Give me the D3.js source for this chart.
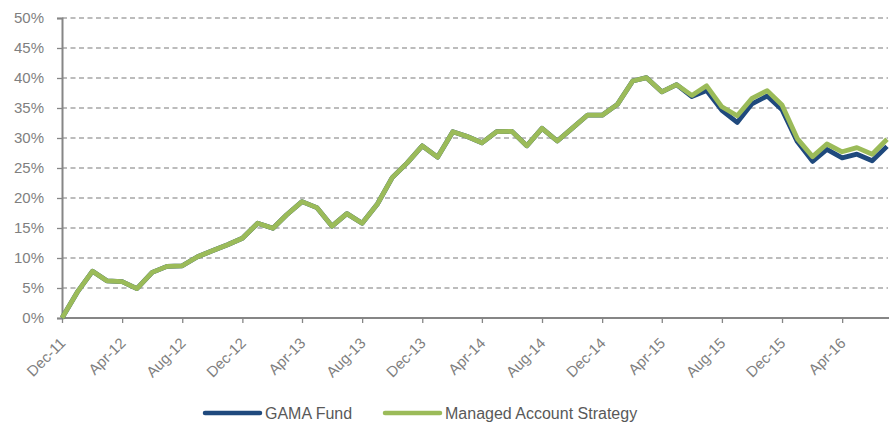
<!DOCTYPE html>
<html>
<head>
<meta charset="utf-8">
<script src="https://cdn.jsdelivr.net/npm/d3@7"></script>
<style>
  body { margin: 0; background: #fff; }
  svg { display: block; }
  text { font-family: "Liberation Sans", "DejaVu Sans", sans-serif; }
</style>
</head>
<body>
<svg id="chart" width="892" height="423"></svg>
<script>
const startMonth = "2011-12";
const monthCount = 56;
const tickLabels = ["Dec-11","Apr-12","Aug-12","Dec-12","Apr-13","Aug-13","Dec-13","Apr-14","Aug-14","Dec-14","Apr-15","Aug-15","Dec-15","Apr-16"];
const yTicks = [0, 5, 10, 15, 20, 25, 30, 35, 40, 45, 50];

const managedValues = [0, 4.3, 7.8, 6.2, 6.05, 4.9, 7.6, 8.6, 8.7, 10.2, 11.2, 12.2, 13.3, 15.8, 14.95, 17.2, 19.4, 18.4, 15.3, 17.4, 15.8, 19.0, 23.4, 25.9, 28.7, 26.8, 31.05, 30.3, 29.2, 31.05, 31.1, 28.7, 31.6, 29.5, 31.6, 33.8, 33.8, 35.6, 39.5, 40.05, 37.7, 38.9, 37.1, 38.7, 35.2, 33.7, 36.6, 37.9, 35.5, 29.9, 26.9, 29.0, 27.7, 28.4, 27.3, 29.8];
const gamaValues = [0, 4.3, 7.8, 6.2, 6.05, 4.9, 7.6, 8.6, 8.7, 10.2, 11.2, 12.2, 13.3, 15.8, 14.95, 17.2, 19.4, 18.4, 15.3, 17.4, 15.8, 19.0, 23.4, 25.9, 28.7, 26.8, 31.05, 30.3, 29.2, 31.05, 31.1, 28.7, 31.6, 29.5, 31.6, 33.8, 33.8, 35.6, 39.5, 40.05, 37.7, 38.9, 36.9, 37.9, 34.6, 32.6, 35.7, 37.0, 34.7, 29.4, 26.1, 28.1, 26.7, 27.3, 26.2, 28.6];

const seriesNames = ["GAMA Fund", "Managed Account Strategy"];
const seriesColors = ["#1F497D", "#9BBB59"];

const parse = d3.timeParse("%Y-%m");
const start = parse(startMonth);
const dates = d3.range(monthCount).map(i => d3.timeMonth.offset(start, i));

const svg = d3.select("#chart");
const mLeft = 62, mRight = 887, mTop = 18, mBottom = 318;

const x = d3.scaleTime().domain([dates[0], dates[dates.length - 1]]).range([mLeft, mRight]);
const y = d3.scaleLinear().domain([0, 50]).range([mBottom, mTop]);

// gridlines
svg.append("g")
  .selectAll("line")
  .data(yTicks.filter(t => t > 0))
  .join("line")
  .attr("x1", mLeft).attr("x2", 888)
  .attr("y1", d => y(d)).attr("y2", d => y(d))
  .attr("stroke", "#a6a6a6")
  .attr("stroke-width", 1.3)
  .attr("stroke-dasharray", "5,3.5");

// y axis
const yAxis = d3.axisLeft(y).tickValues(yTicks).tickSize(5).tickFormat(d => d + "%");
const gy = svg.append("g").attr("transform", `translate(${mLeft},0)`).call(yAxis);
gy.select(".domain").attr("stroke", "#868686").attr("stroke-width", 2);
gy.selectAll(".tick line").attr("stroke", "#868686").attr("stroke-width", 1.3);
gy.selectAll(".tick text").attr("fill", "#7f7f7f").attr("font-size", 15).attr("x", -18);

// x axis
const tickDates = dates.filter((d, i) => i % 4 === 0);
const xAxis = d3.axisBottom(x).tickValues(tickDates).tickSize(5).tickFormat((d, i) => tickLabels[i]);
const gx = svg.append("g").attr("transform", `translate(0,${mBottom})`).call(xAxis);
gx.select(".domain").attr("stroke", "#868686").attr("stroke-width", 2).attr("d", `M${mLeft},0H889`);
gx.selectAll(".tick line").attr("stroke", "#868686").attr("stroke-width", 1.3);
gx.selectAll(".tick text")
  .attr("fill", "#7f7f7f").attr("font-size", 15)
  .attr("text-anchor", "end")
  .attr("dy", 0)
  .attr("transform", "translate(4,26) rotate(-45)")
  .attr("y", 0).attr("x", 0);

// lines
const line = d3.line().x((d, i) => x(dates[i])).y(d => y(d)).curve(d3.curveLinear);
const allSeries = [gamaValues, managedValues];
svg.append("g").selectAll("path")
  .data(allSeries)
  .join("path")
  .attr("d", d => line(d))
  .attr("fill", "none")
  .attr("stroke", (d, i) => seriesColors[i])
  .attr("stroke-width", 4.8)
  .attr("stroke-linejoin", "round");

// legend
const legend = svg.append("g");
const legendX = [205, 385];
seriesNames.forEach((name, i) => {
  const lx = legendX[i];
  legend.append("line")
    .attr("x1", lx).attr("x2", lx + 55).attr("y1", 413).attr("y2", 413)
    .attr("stroke", seriesColors[i]).attr("stroke-width", 4.5).attr("stroke-linecap", "round");
  legend.append("text")
    .attr("x", lx + 60).attr("y", 419)
    .attr("fill", "#595959").attr("font-size", 16)
    .text(name);
});
</script>
</body>
</html>
